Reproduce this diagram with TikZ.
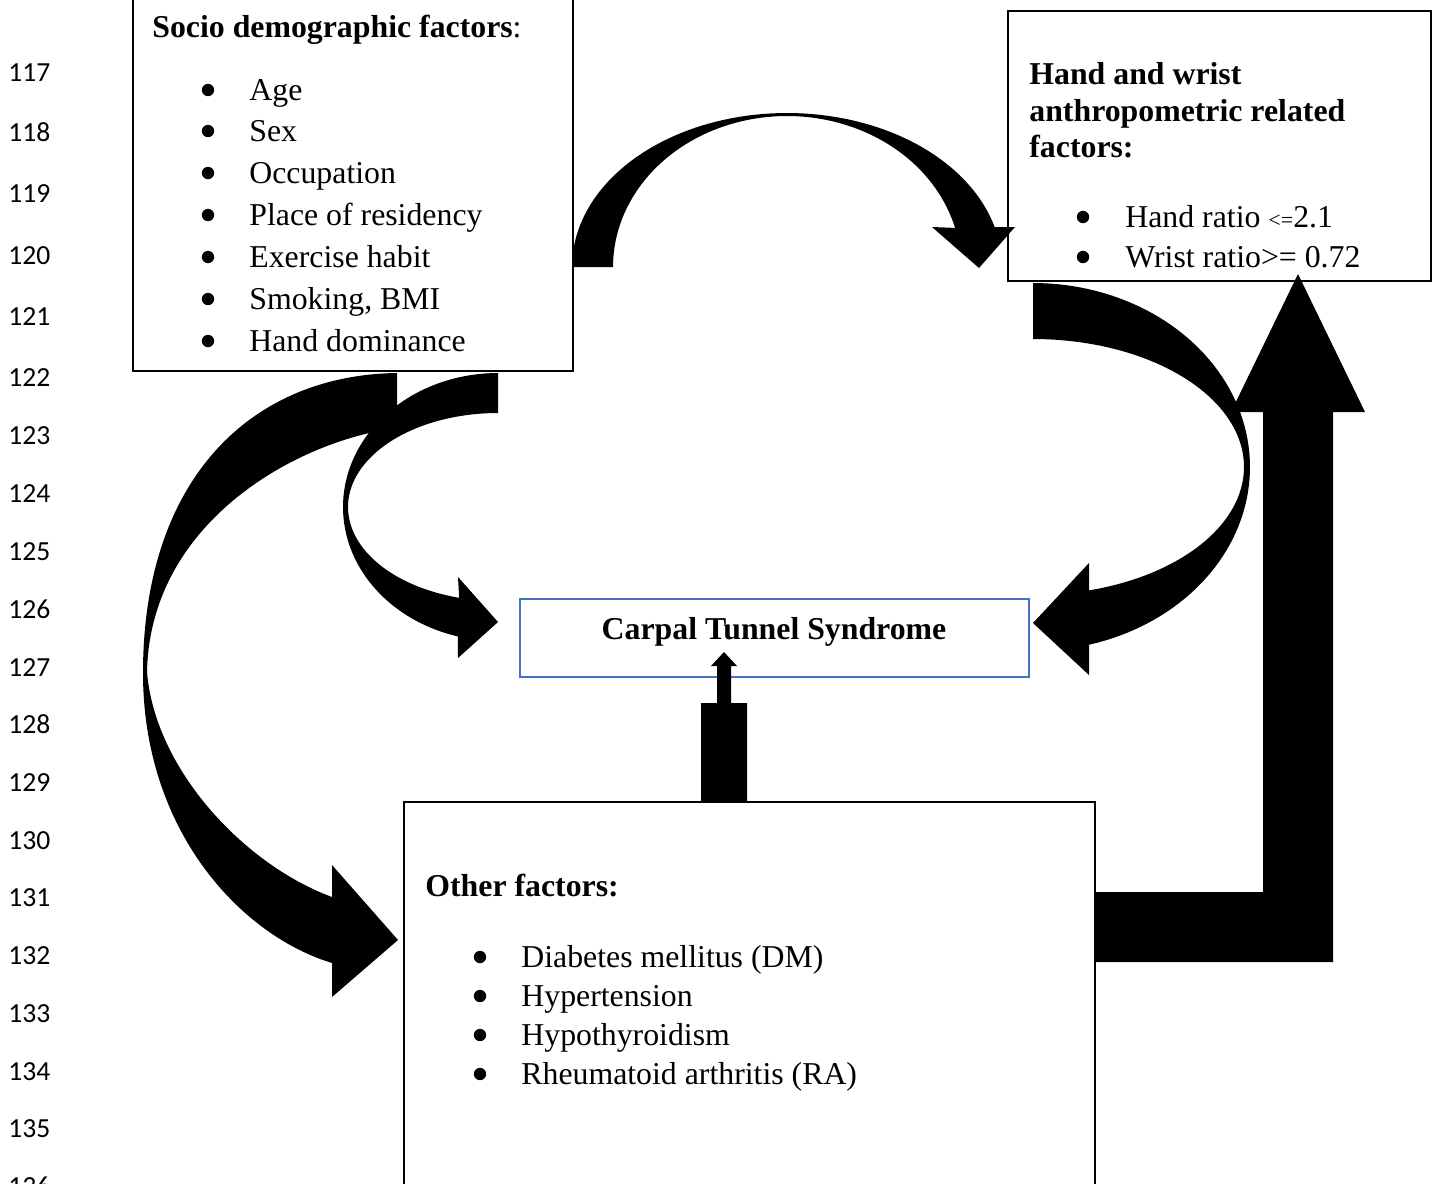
\documentclass[tikz,border=0pt]{standalone}
\usepackage{fontspec}
\setmainfont{Liberation Serif}
\newfontfamily\lnfont{Carlito}
\definecolor{ctsblue}{RGB}{68,114,196}
\begin{document}
\begin{tikzpicture}[x=0.5pt,y=-0.5pt,
  txt/.style={anchor=base west,inner sep=0pt,font=\fontsize{15.9}{19}\selectfont},
  bld/.style={anchor=base west,inner sep=0pt,font=\fontsize{15.9}{19}\selectfont\bfseries},
  bul/.style={circle,fill=black,inner sep=0pt,minimum size=6.2pt},
  lnum/.style={anchor=base west,inner sep=0pt,font=\lnfont\fontsize{13.8}{16}\selectfont},
  frame/.style={draw=black,line width=1pt,anchor=north west,inner sep=0pt},
  blk/.style={fill=black}
]
\useasboundingbox (0,0) rectangle (1437,1184);
\clip (0,0) rectangle (1437,1184);

% line numbers
\foreach \n/\y in {117/81,118/141,119/202,120/264,121/325,122/386,123/444,124/502,125/560,126/618,127/676,128/733,129/791,130/849,131/906,132/964,133/1022,134/1080,135/1137,136/1195}
  \node[lnum] (ln\n) at (8,\y) {\n};

% boxes
\node[frame,minimum width=220pt,minimum height=190pt] (socio) at (132,-10) {};
\node[frame,minimum width=211.5pt,minimum height=135pt] (hand) at (1007,10) {};
\node[frame,draw=ctsblue,minimum width=254.5pt,minimum height=39pt] (cts) at (519,598) {};
\node[frame,minimum width=345.5pt,minimum height=210pt] (other) at (403,801) {};

% socio text
\node[txt] (st) at (152,37) {\textbf{Socio demographic factors}:};
\foreach \t/\y [count=\i] in {Age/100,Sex/141,Occupation/183,Place of residency/225,Exercise habit/267,{Smoking, BMI}/309,Hand dominance/351}{
  \node[bul] (sb\i) at (208,\y-10) {};
  \node[txt] (si\i) at (249,\y) {\t};
}

% hand text
\node[bld] (h1) at (1029,84) {Hand and wrist};
\node[bld] (h2) at (1029,121) {anthropometric related};
\node[bld] (h3) at (1029,157) {factors:};
\node[bul] (hb1) at (1083,217) {};
\node[txt] (hi1) at (1125,227) {Hand ratio {\fontsize{11}{13}\selectfont <=}2.1};
\node[bul] (hb2) at (1083,257) {};
\node[txt] (hi2) at (1125,267) {Wrist ratio>= 0.72};

% CTS
\node[bld,anchor=base] (ct) at (774,639) {Carpal Tunnel Syndrome};

% other text
\node[bld] (ot) at (425,896) {Other factors:};
\foreach \t/\y [count=\i] in {Diabetes mellitus (DM)/967,Hypertension/1006,Hypothyroidism/1045,Rheumatoid arthritis (RA)/1084}{
  \node[bul] (ob\i) at (480,\y-10) {};
  \node[txt] (oi\i) at (521,\y) {\t};
}

% arrow 1: socio -> hand (curved over the top)
\fill[blk] plot[domain=180:15,samples=80] ({787+215*cos(\x)},{267-154*sin(\x)})
  -- (1015,227) -- (979,268) -- (932,227)
  -- plot[domain=15:180,samples=80] ({787+174*cos(\x)},{267-151*sin(\x)}) -- cycle;

% arrow 2: hand -> CTS (curved left)
\fill[blk] plot[domain=90:-75,samples=80] ({1033+217*cos(\x)},{467-184*sin(\x)})
  -- (1089,675) -- (1033,623) -- (1089,563)
  -- plot[domain=-74.6:90,samples=80] ({1033+211*cos(\x)},{467-128*sin(\x)}) -- cycle;

% arrow 4: socio -> other (big curved right)
\fill[blk] (397,373) .. controls (250,375) and (143,480) .. (143,673)
  .. controls (143,830) and (240,935) .. (332,963)
  -- (332,997) -- (398,940) -- (332,865) -- (332,897)
  .. controls (245,865) and (155,770) .. (147,672)
  .. controls (150,520) and (300,440) .. (397,428) -- cycle;

% arrow 3: socio -> CTS (small curved right)
\fill[blk] plot[domain=90:255,samples=80] ({498+155*cos(\x)},{507-134*sin(\x)})
  -- (458,658) -- (498,622) -- (458,577)
  -- plot[domain=255:90,samples=80] ({498+150*cos(\x)},{507-94*sin(\x)}) -- cycle;

% arrow 5: other -> hand (L-shaped up arrow)
\fill[blk] (1094,892) -- (1263,892) -- (1263,412) -- (1231,412) -- (1298,274)
  -- (1365,412) -- (1333,412) -- (1333,962) -- (1094,962) -- cycle;

% arrow 6: other -> CTS (small up arrow)
\fill[blk] (701,801) -- (701,703) -- (717,703) -- (717,666) -- (711,666) -- (724,652)
  -- (737,666) -- (731,666) -- (731,703) -- (747,703) -- (747,801) -- cycle;
\end{tikzpicture}
\end{document}
